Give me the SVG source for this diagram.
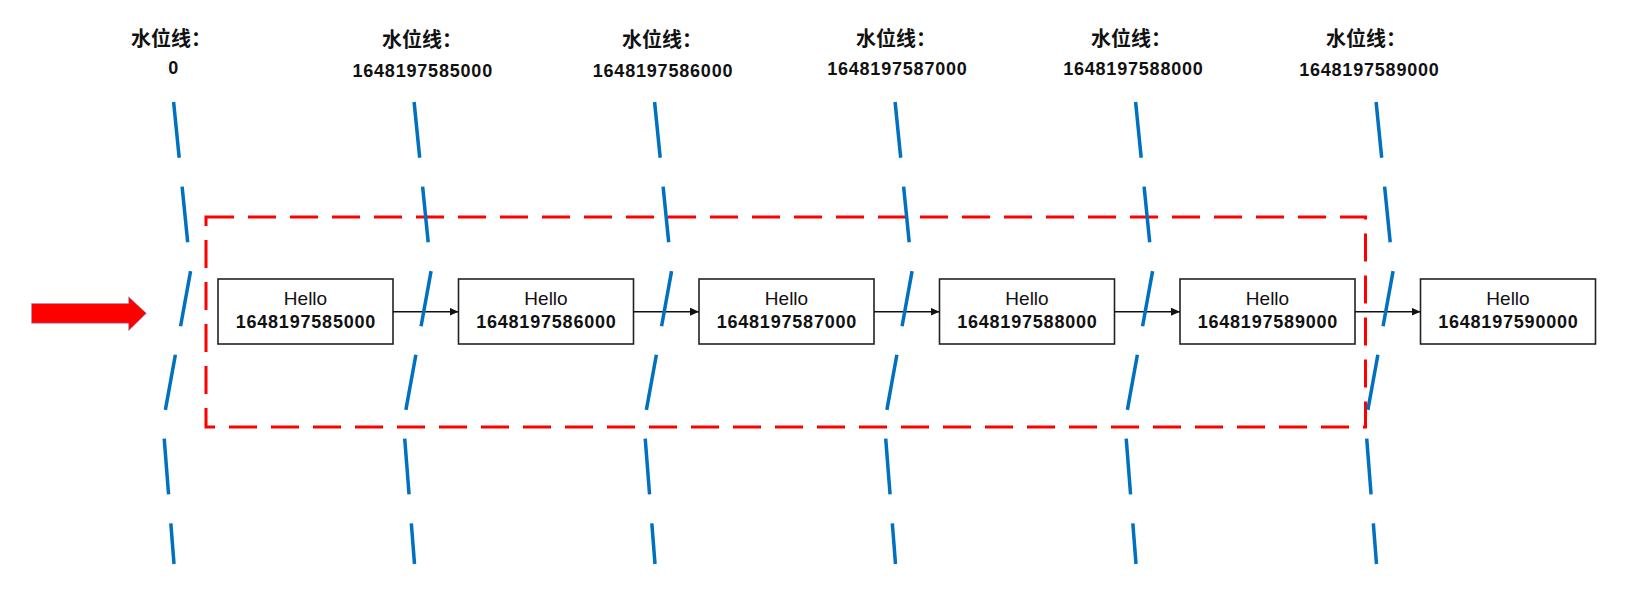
<svg xmlns="http://www.w3.org/2000/svg" width="1648" height="591" viewBox="0 0 1648 591">
<style>
.wl{font-family:"Noto Sans CJK SC","Liberation Sans",sans-serif;font-weight:bold;font-size:20px;fill:#111;text-anchor:middle}
.wn{font-family:"Liberation Sans",sans-serif;font-weight:bold;font-size:18px;letter-spacing:0.8px;fill:#111;text-anchor:middle}
.box{fill:#fff;stroke:#222;stroke-width:1.6}
.hello{font-family:"Liberation Sans",sans-serif;font-size:19px;fill:#111;text-anchor:middle}
.num{font-family:"Liberation Sans",sans-serif;font-weight:bold;font-size:18px;letter-spacing:0.8px;fill:#111;text-anchor:middle}
.conn{stroke:#111;stroke-width:1.4;fill:none;marker-end:url(#ah)}
.water{fill:none;stroke:#0070C0;stroke-width:3.5;stroke-dasharray:56 29}
.window{fill:none;stroke:#FF0000;stroke-width:3;stroke-dasharray:28 14}
</style>
<defs>
<marker id="ah" markerUnits="userSpaceOnUse" markerWidth="10" markerHeight="9" refX="9" refY="4" orient="auto">
<path d="M0,0 L9,4 L0,8 z" fill="#111"/>
</marker>
</defs>
<rect width="1648" height="591" fill="#fff"/>

<g id="labels">
<text class="wl" x="171" y="46">水位线：</text><text class="wn" x="173.6" y="74">0</text>
<text class="wl" x="422" y="47">水位线：</text><text class="wn" x="422.7" y="76.5">1648197585000</text>
<text class="wl" x="662" y="47">水位线：</text><text class="wn" x="663" y="76.5">1648197586000</text>
<text class="wl" x="896" y="46">水位线：</text><text class="wn" x="897.4" y="74.5">1648197587000</text>
<text class="wl" x="1131" y="46">水位线：</text><text class="wn" x="1133.4" y="74.5">1648197588000</text>
<text class="wl" x="1366" y="46">水位线：</text><text class="wn" x="1369.4" y="76">1648197589000</text>
</g>

<g id="window">
<rect class="window" x="206" y="217" width="1159.5" height="210"/>
</g>

<g id="input-arrow">
<path d="M31.5,303.5 H128.6 V296.7 L146.4,313.3 L128.6,330.7 V323.3 H31.5 Z" fill="#FF0000" stroke="#7fa6d8" stroke-width="1" stroke-opacity="0.6"/>
</g>

<g id="node1"><rect class="box" x="218" y="279" width="175" height="65"/><text class="hello" x="305.5" y="305">Hello</text><text class="num" x="305.9" y="328.3">1648197585000</text></g>
<g id="node2"><rect class="box" x="458.5" y="279" width="175" height="65"/><text class="hello" x="546" y="305">Hello</text><text class="num" x="546.4" y="328.3">1648197586000</text></g>
<g id="node3"><rect class="box" x="699" y="279" width="175" height="65"/><text class="hello" x="786.5" y="305">Hello</text><text class="num" x="786.9" y="328.3">1648197587000</text></g>
<g id="node4"><rect class="box" x="939.5" y="279" width="175" height="65"/><text class="hello" x="1027" y="305">Hello</text><text class="num" x="1027.4" y="328.3">1648197588000</text></g>
<g id="node5"><rect class="box" x="1180" y="279" width="175" height="65"/><text class="hello" x="1267.5" y="305">Hello</text><text class="num" x="1267.9" y="328.3">1648197589000</text></g>
<g id="node6"><rect class="box" x="1420.5" y="279" width="175" height="65"/><text class="hello" x="1508" y="305">Hello</text><text class="num" x="1508.4" y="328.3">1648197590000</text></g>

<g id="connectors">
<path class="conn" d="M393,311.7 H458.5"/>
<path class="conn" d="M633.5,311.7 H699"/>
<path class="conn" d="M874,311.7 H939.5"/>
<path class="conn" d="M1114.5,311.7 H1180"/>
<path class="conn" d="M1355,311.7 H1420.5"/>
</g>

<g id="watermarks">
<path class="water" d="M173.6,102 L190.6,271 L163,423 L174,564"/>
<path class="water" d="M414.1,102 L431.1,271 L403.5,423 L414.5,564"/>
<path class="water" d="M654.6,102 L671.6,271 L644,423 L655,564"/>
<path class="water" d="M895.1,102 L912.1,271 L884.5,423 L895.5,564"/>
<path class="water" d="M1135.6,102 L1152.6,271 L1125,423 L1136,564"/>
<path class="water" d="M1376.1,102 L1393.1,271 L1365.5,423 L1376.5,564"/>
</g>
</svg>
